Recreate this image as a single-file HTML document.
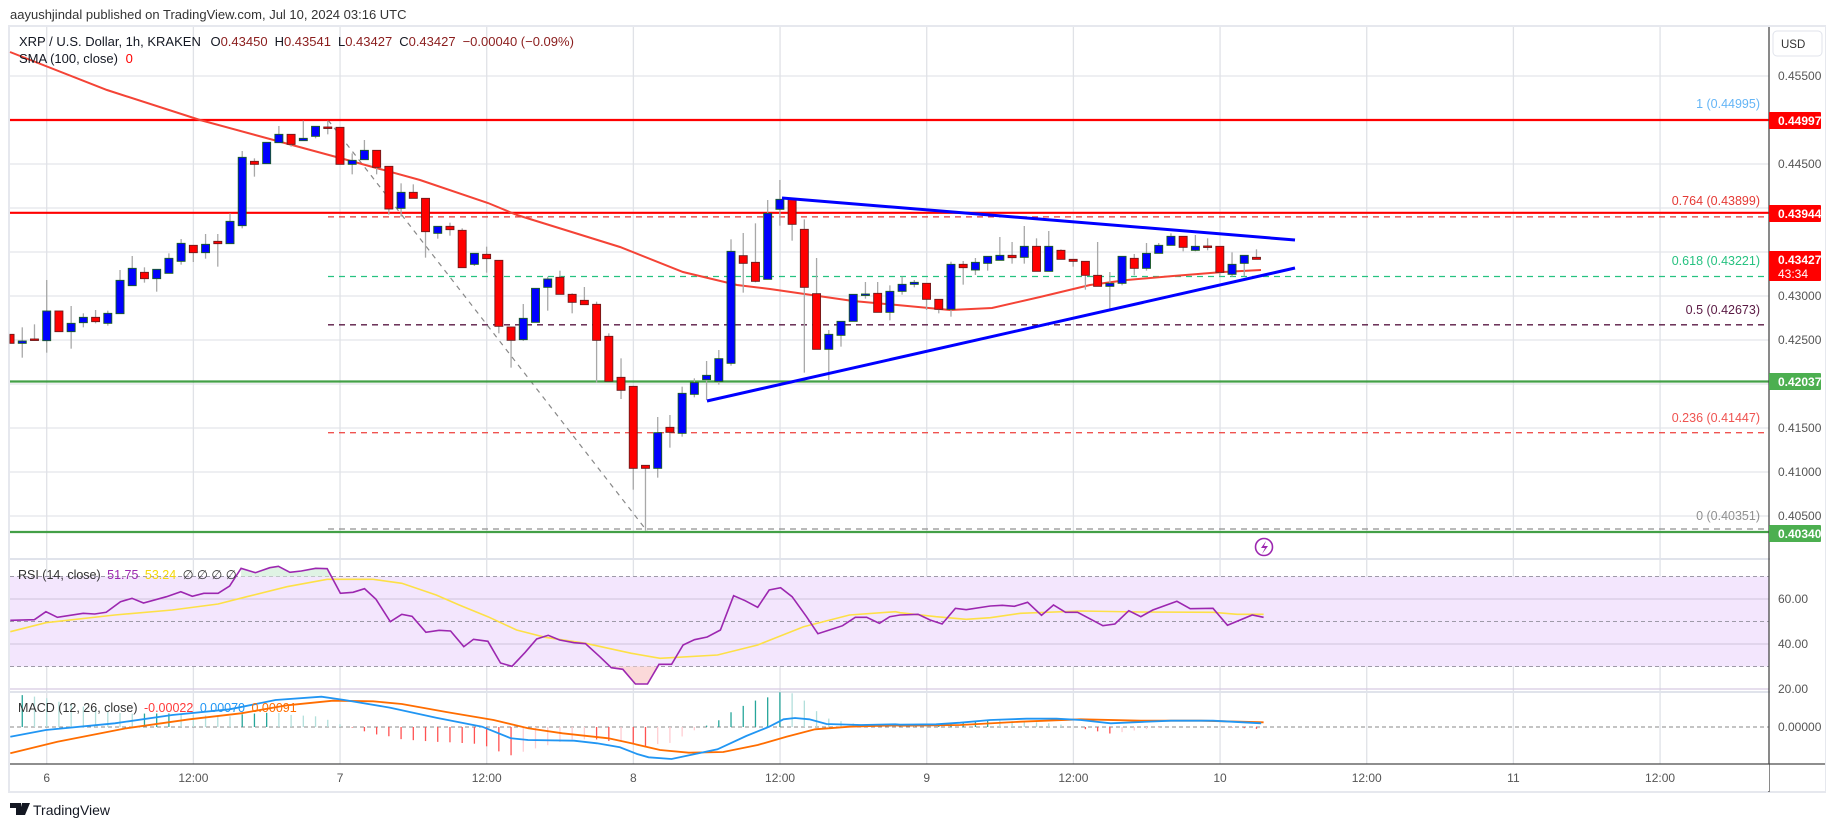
<!DOCTYPE html>
<html><head><meta charset="utf-8"><style>
html,body{margin:0;padding:0;background:#fff;width:1835px;height:827px;overflow:hidden}
svg{display:block;font-family:"Liberation Sans",sans-serif}
</style></head><body>
<svg id="s" width="1835" height="827" viewBox="0 0 1835 827" xmlns="http://www.w3.org/2000/svg">
<rect x="0" y="0" width="1835" height="827" fill="#fff"/>
<text x="10" y="19" font-size="13" fill="#333">aayushjindal published on TradingView.com, Jul 10, 2024 03:16 UTC</text>
<rect x="9" y="26" width="1816" height="766" fill="#fff" stroke="#e6e8ee" stroke-width="2"/>
<g id="grid"></g>
<g id="rsiBand"></g>
<g id="fib"></g>
<g id="main"></g>
<g id="ind"></g>
<g id="axis"></g>
</svg>
<script>
var NS="http://www.w3.org/2000/svg";
function el(p,t,a,txt){var e=document.createElementNS(NS,t);for(var k in a)e.setAttribute(k,a[k]);if(txt!==undefined)e.textContent=txt;document.getElementById(p).appendChild(e);return e;}
var AX=1769;
function py(p){return 164+(0.445-p)*8800;}
for(var p=0.455;p>0.4024;p-=0.005){var y=py(p);el('grid','line',{x1:10,x2:AX,y1:y,y2:y,stroke:'#e3e5ea','stroke-width':1.3});}
var vx=[];for(var k=0;k<12;k++){vx.push(46.7+k*146.67);}
vx.forEach(function(x){el('grid','line',{x1:x,x2:x,y1:27,y2:764,stroke:'#e0e2e7','stroke-width':1.3});});
el('grid','line',{x1:10,x2:1825,y1:559,y2:559,stroke:'#e0e3eb','stroke-width':2});
el('grid','line',{x1:10,x2:1825,y1:692,y2:692,stroke:'#e0e3eb','stroke-width':2});
function ry(v){return 599+(60-v)*2.25;}
el('rsiBand','rect',{x:10,y:ry(70),width:AX-10,height:ry(30)-ry(70),fill:'#f3e6fd'});
[60,40,20].forEach(function(v){el('rsiBand','line',{x1:10,x2:AX,y1:ry(v),y2:ry(v),stroke:'#d6cbe2','stroke-width':1.3});});
[70,50,30].forEach(function(v){el('rsiBand','line',{x1:10,x2:AX,y1:ry(v),y2:ry(v),stroke:'#9e9aa8','stroke-width':1,'stroke-dasharray':'4 3'});});
el('rsiBand','line',{x1:10,x2:AX,y1:727,y2:727,stroke:'#888','stroke-width':1,'stroke-dasharray':'4 3'});
var fibs=[[120,'#64b5f6','1 (0.44995)',108],[216.9,'#e53935','0.764 (0.43899)',205],[276.5,'#26c281','0.618 (0.43221)',265],[324.8,'#5a1a44','0.5 (0.42673)',314],[432.7,'#ef5350','0.236 (0.41447)',422],[529,'#909090','0 (0.40351)',520]];
fibs.forEach(function(f){el('fib','line',{x1:328,x2:1765,y1:f[0],y2:f[0],stroke:f[1],'stroke-width':1.3,'stroke-dasharray':'6 5'});
el('fib','text',{x:1760,y:f[3],'text-anchor':'end','font-size':12.5,fill:f[1]},f[2]);});
el('fib','line',{x1:328,y1:120,x2:647,y2:531,stroke:'#888','stroke-width':1.2,'stroke-dasharray':'5 5'});
el('fib','line',{x1:10,x2:AX,y1:120,y2:120,stroke:'#ff0000','stroke-width':2.2});
el('fib','line',{x1:10,x2:AX,y1:212.8,y2:212.8,stroke:'#ff0000','stroke-width':2.2});
el('fib','line',{x1:10,x2:AX,y1:381.5,y2:381.5,stroke:'#43a047','stroke-width':2.2});
el('fib','line',{x1:10,x2:AX,y1:532,y2:532,stroke:'#43a047','stroke-width':2.2});
var sma=[[10,52],[107,90],[200,120],[340,158],[420,180],[488,203],[517,215],[620,247],[683,272],[737,285],[770,289],[853,301],[897,305],[950,310],[992,308],[1040,297],[1090,285],[1127,280],[1173,276],[1223,272],[1261,270]];
el('main','polyline',{points:sma.map(function(p){return p.join(',')}).join(' '),fill:'none',stroke:'#f44336','stroke-width':2});
var C=[[1,5,733,760,733,760,0],[2,5,753,760,712,803,1],[3,5,747,750,703,750,0],[4,5,663,752,570,788,1],[5,5,663,725,663,725,0],[6,5,700,725,648,776,1],[7,5,682,698,670,712,1],[8,5,682,695,660,700,0],[9,5,670,700,662,707,1],[10,5,571,671,540,671,1],[11,5,535,587,498,587,1],[12,5,547,566,532,578,0],[13,5,538,566,538,605,1],[14,5,505,550,490,550,1],[15,5,460,514,447,524,1],[16,5,466,488,466,516,0],[17,5,463,488,432,506,1],[18,5,454,461,432,530,0],[19,5,394,461,370,461,1],[20,5,202,407,183,415,1],[21,5,214,223,205,260,0],[22,5,157,221,157,221,1],[23,5,133,158,108,158,1],[24,5,133,163,133,170,0],[25,5,145,152,92,152,1],[26,5,109,139,109,145,1],[27,5,111,113,92,133,0],[28,5,112,223,112,223,0],[29,5,211,223,190,253,1],[30,5,181,209,150,209,1],[31,5,181,232,181,253,0],[32,5,229,357,229,374,0],[33,5,307,355,280,380,1],[34,5,307,325,283,325,0],
[35,6,55,155,55,233,0],[36,6,139,160,139,176,1],[37,6,139,149,128,167,0],[38,6,151,263,145,263,0],[39,6,220,253,220,258,1],[40,6,223,236,200,278,0],[41,6,241,439,241,460,0],[42,6,441,481,441,563,0],[43,6,415,479,372,483,1],[44,6,325,427,325,427,1],[45,6,297,322,290,392,1],[46,6,292,343,272,343,0],[47,6,343,367,340,400,0],[48,6,361,374,321,374,0],[49,6,373,481,365,607,0],[50,6,469,604,460,604,0],[51,6,592,631,535,657,0],[52,6,619,865,619,929,0],[53,6,856,865,856,1052,0],[54,6,758,865,711,893,1],[55,6,742,757,705,803,0],[56,6,640,760,620,770,1],[57,6,608,643,595,652,1],[58,6,586,599,543,660,1],[59,6,536,604,510,614,1],[60,6,214,550,178,557,1],[61,6,227,250,159,338,0],[62,6,247,304,130,307,0],[63,6,100,298,60,298,1],[64,6,58,88,0,137,1],[65,6,58,133,58,182,0],[66,6,148,322,118,578,0],[67,6,341,508,234,508,0],[68,6,463,508,450,603,1],[69,6,424,466,424,500,1],[70,6,343,424,343,424,1],
[71,6,342,344,306,356,1],[72,6,340,397,306,397,0],[73,6,334,397,316,421,1],[74,6,313,334,290,344,1],[75,6,307,313,300,322,1],[76,6,310,358,310,390,0],[77,6,358,388,358,400,0],[78,6,253,388,245,410,1],[79,6,253,263,243,314,0],[80,6,247,270,234,285,1],[81,6,229,250,229,272,1],[82,6,226,241,171,241,1],[83,6,226,233,186,251,0],[84,6,199,232,138,251,1],[85,6,199,274,175,274,0],[86,6,199,274,153,274,1],[87,6,211,238,208,238,0],[88,6,238,244,238,260,0],[89,6,244,286,244,329,0],[90,6,286,319,186,319,0],[91,6,310,319,276,392,1],[92,6,229,310,229,316,1],[93,6,235,265,222,286,0],[94,6,220,265,189,272,1],[95,6,196,220,189,220,1],[96,6,169,196,160,196,1],[97,6,169,202,169,214,0],[98,6,199,211,165,214,1],[99,6,198,200,175,211,0],[100,6,199,277,199,289,0],[101,6,253,283,217,290,1],[102,6,226,250,226,289,1],[103,6,232,238,208,238,0]];
C.forEach(function(c){var off=c[1]==5?90:180;var x=46.7+(c[0]-4)*12.22;
var t=off+c[2]/3,b=off+c[3]/3,wt=off+c[4]/3,wb=off+c[5]/3;
el('main','line',{x1:x,x2:x,y1:wt,y2:wb,stroke:'#a8a8a8','stroke-width':1.3});
var h=Math.max(b-t,1.5);var lx=Math.max(x-4,10);
el('main','rect',{x:lx,y:t,width:x+4-lx,height:h,fill:c[6]?'#0000ff':'#ff0000',stroke:c[6]?'#1b5e20':'#6d1b1b','stroke-width':0.9});});
el('main','line',{x1:782,y1:198,x2:1295,y2:240,stroke:'#0000ff','stroke-width':3});
el('main','line',{x1:707,y1:401,x2:1295,y2:268,stroke:'#0000ff','stroke-width':3});
el('main','circle',{cx:1264,cy:547,r:8.5,fill:'#fff',stroke:'#9c27b0','stroke-width':1.6});
el('main','path',{d:'M1266 541 L1261 548 L1265 548 L1262 554 L1268 546 L1264 546 Z',fill:'#9c27b0'});
function z3(a){return a.map(function(p){return [p[0]*0.574,480+p[1]/3];});}
function z4(a){return a.map(function(p){return [900+p[0]*0.602,480+p[1]/3];});}
function pl(a){return a.map(function(p){return p[0].toFixed(1)+','+p[1].toFixed(1)}).join(' ');}
var rsi=z3([[18,421],[60,419],[80,395],[100,412],[145,400],[165,402],[185,397],[210,365],[230,355],[250,369],[290,350],[315,335],[335,349],[355,340],[380,340],[400,318],[420,265],[445,278],[470,263],[485,259],[505,277],[525,273],[550,265],[570,266],[593,340],[615,337],[635,326],[655,358],[680,425],[700,403],[718,409],[742,457],[765,451],[785,453],[808,500],[825,478],[850,484],[872,549],[892,559],[915,517],[935,477],[955,466],[975,480],[1000,488],[1020,491],[1045,530],[1065,563],[1085,568],[1107,612],[1128,612],[1148,553],[1170,553],[1190,495],[1210,479],[1232,471],[1255,450],[1278,347],[1298,362],[1320,382],[1340,330],[1360,323],[1380,350],[1405,410],[1425,461],[1445,450],[1468,437],[1490,412],[1510,412],[1532,430],[1550,410]]).concat(z4([[0,405],[30,403],[50,420],[70,432],[92,385],[110,389],[150,378],[170,376],[190,379],[212,367],[235,406],[255,375],[275,397],[295,397],[337,437],[357,432],[380,392],[400,410],[420,390],[460,364],[482,386],[520,385],[544,436],[585,405],[604,412]]));
var rma=z3([[18,455],[80,428],[200,405],[300,390],[380,372],[430,350],[500,320],[570,298],[650,298],[700,310],[760,345],[800,375],[850,410],[900,450],[950,472],[1020,490],[1100,520],[1150,535],[1250,525],[1320,495],[1400,440],[1480,405],[1560,395]]).concat(z4([[0,398],[60,410],[110,418],[150,413],[200,400],[300,393],[400,396],[520,397],[560,403],[604,403]]));
el('ind','path',{d:'M'+(420*0.574)+','+ry(70)+' L'+pl(z3([[420,265],[445,278],[470,263],[485,259],[505,277],[525,273],[550,265],[570,266]])).replace(/ /g,' L')+' L'+(575*0.574)+','+ry(70)+'Z',fill:'#dff3e4'});
el('ind','path',{d:'M'+(1062*0.574)+','+ry(30)+' L'+(1085*0.574)+','+(480+568/3)+' L'+(1107*0.574)+','+(480+612/3)+' L'+(1128*0.574)+','+(480+612/3)+' L'+(1148*0.574)+','+ry(30)+'Z',fill:'#fbd9d9'});
el('ind','polyline',{points:pl(rma),fill:'none',stroke:'#fde047','stroke-width':1.6});
el('ind','polyline',{points:pl(rsi),fill:'none',stroke:'#9c27b0','stroke-width':1.6});
var blue=z3([[18,770],[80,750],[200,730],[300,705],[400,688],[480,660],[560,650],[600,660],[680,683],[760,713],[840,740],[890,775],[920,780],[1000,782],[1040,790],[1080,802],[1110,822],[1130,832],[1170,837],[1250,808],[1300,768],[1340,740],[1365,718],[1385,714],[1410,718],[1440,732],[1500,735],[1560,733]]).concat(z4([[0,734],[60,733],[100,728],[150,720],[210,716],[260,716],[300,720],[350,730],[450,722],[520,722],[600,730]]));
var org=z3([[18,820],[100,785],[220,745],[330,718],[420,700],[500,676],[580,662],[650,664],[700,672],[780,697],[860,720],[920,745],[980,760],[1060,775],[1100,790],[1150,810],[1200,818],[1260,816],[1320,795],[1370,770],[1420,748],[1480,740],[1560,736]]).concat(z4([[0,737],[100,735],[200,725],[300,718],[400,722],[500,722],[604,727]]));
function interp(a,x){for(var i=0;i<a.length-1;i++){if(x>=a[i][0]&&x<=a[i+1][0]){var t=(x-a[i][0])/(a[i+1][0]-a[i][0]);return a[i][1]+t*(a[i+1][1]-a[i][1]);}}return a[a.length-1][1];}
var prev=0;
for(var i=2;i<=103;i++){var x=46.7+(i-4)*12.22;if(x<12)continue;var d=(interp(org,x)-interp(blue,x))*2.0;
var col=d>=0?(d>=prev?'#26a69a':'#b2dfdb'):(d<=prev?'#ff5252':'#ffcdd2');prev=d;
el('ind','line',{x1:x,x2:x,y1:727,y2:727-d,stroke:col,'stroke-width':1.3});}
el('ind','polyline',{points:pl(org),fill:'none',stroke:'#ff6d00','stroke-width':1.8});
el('ind','polyline',{points:pl(blue),fill:'none',stroke:'#2196f3','stroke-width':1.8});
el('axis','rect',{x:AX+1,y:27,width:55,height:764,fill:'#fff'});
el('axis','line',{x1:AX,x2:AX,y1:27,y2:792,stroke:'#4a4a4a','stroke-width':1.3});
el('axis','rect',{x:10,y:764,width:AX-10,height:27,fill:'#fff'});
el('axis','line',{x1:10,x2:1825,y1:764,y2:764,stroke:'#4a4a4a','stroke-width':1.3});
var lbl=['6','12:00','7','12:00','8','12:00','9','12:00','10','12:00','11','12:00'];
vx.forEach(function(x,i){el('axis','text',{x:x,y:782,'text-anchor':'middle','font-size':12,fill:'#555'},lbl[i]);});
el('axis','rect',{x:1773,y:31,width:49,height:25,rx:4,fill:'#fff',stroke:'#e0e3eb'});
el('axis','text',{x:1781,y:48,'font-size':11.5,fill:'#333'},'USD');
[[0.455,'0.45500'],[0.445,'0.44500'],[0.43,'0.43000'],[0.425,'0.42500'],[0.415,'0.41500'],[0.41,'0.41000'],[0.405,'0.40500']].forEach(function(t){el('axis','text',{x:1778,y:py(t[0])+4,'font-size':12,fill:'#555'},t[1]);});
[[599,'60.00'],[644,'40.00'],[689,'20.00'],[727,'0.00000']].forEach(function(t){el('axis','text',{x:1778,y:t[0]+4,'font-size':12,fill:'#555'},t[1]);});
function tag(y,h,col,txt,txt2){el('axis','rect',{x:AX,y:y,width:52,height:h,fill:col,rx:1});el('axis','text',{x:1778,y:y+13,'font-size':12,'font-weight':'bold',fill:'#fff'},txt);if(txt2)el('axis','text',{x:1778,y:y+27,'font-size':12,fill:'#fff'},txt2);}
tag(112,17,'#ff0000','0.44997');tag(205,17,'#ff0000','0.43944');tag(251,30,'#ff0000','0.43427','43:34');tag(373,17,'#4caf50','0.42037');tag(525,17,'#4caf50','0.40340');
var t1=el('axis','text',{x:19,y:46,'font-size':13,fill:'#131722'});
t1.innerHTML='XRP / U.S. Dollar, 1h, KRAKEN  <tspan dx="6">O</tspan><tspan fill="#8b1d1d">0.43450</tspan><tspan dx="7">H</tspan><tspan fill="#8b1d1d">0.43541</tspan><tspan dx="7">L</tspan><tspan fill="#8b1d1d">0.43427</tspan><tspan dx="7">C</tspan><tspan fill="#8b1d1d">0.43427</tspan><tspan dx="7" fill="#8b1d1d">−0.00040 (−0.09%)</tspan>';
var t2=el('axis','text',{x:19,y:63,'font-size':13,fill:'#131722'});t2.innerHTML='SMA (100, close) <tspan dx="4" fill="#ff0000">0</tspan>';
var t3=el('axis','text',{x:18,y:579,'font-size':12.5,fill:'#333'});t3.innerHTML='RSI (14, close) <tspan fill="#9c27b0" dx="3">51.75</tspan> <tspan fill="#f5d90a" dx="3">53.24</tspan> <tspan dx="3">∅ ∅ ∅ ∅</tspan>';
var t4=el('axis','text',{x:18,y:712,'font-size':12.5,fill:'#333'});t4.innerHTML='MACD (12, 26, close) <tspan fill="#ff3b3b" dx="3">-0.00022</tspan> <tspan fill="#2196f3" dx="3">0.00070</tspan> <tspan fill="#ff6d00" dx="3">0.00091</tspan>';
el('axis','path',{d:'M10 803 H21 V815 H16 V808 H10 Z',fill:'#131722'});
el('axis','path',{d:'M22 803 H30 L25 815 H19 Z',fill:'#131722'});
el('axis','text',{x:33,y:815,'font-size':14,fill:'#131722'},'TradingView');
</script>
</body></html>
